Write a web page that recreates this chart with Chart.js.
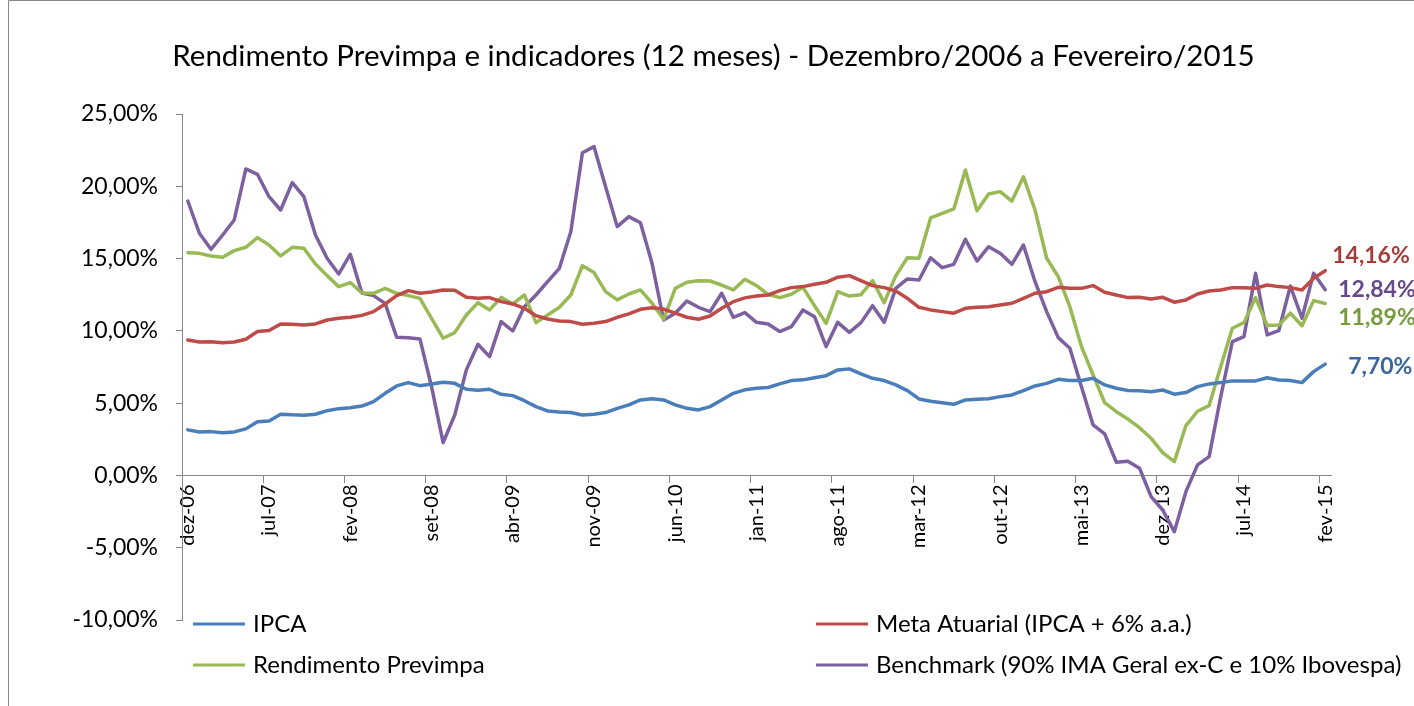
<!DOCTYPE html>
<html lang="pt-BR">
<head>
<meta charset="UTF-8">
<title>Rendimento Previmpa e indicadores</title>
<script src="https://cdn.jsdelivr.net/npm/chart.js"></script>
<style>
    body { margin: 0; background: #fff; }
    #wrap { width: 1414px; height: 706px; }
</style>
</head>
<body>
<div id="wrap"><canvas id="chart" width="1414" height="706"></canvas></div>
<script>
// categories: dez-06 .. fev-15
const months = ['jan', 'fev', 'mar', 'abr', 'mai', 'jun', 'jul', 'ago', 'set', 'out', 'nov', 'dez'];
const labels = ['dez-06'];
for (let y = 7; y <= 15; y++) {
    for (let m = 0; m < 12; m++) {
        if (y === 15 && m > 1) break;
        labels.push(months[m] + '-' + String(y).padStart(2, '0'));
    }
}

const ipca = [
    3.15, 3.01, 3.03, 2.96, 3.01, 3.22, 3.72, 3.77, 4.23, 4.19, 4.17, 4.23, 4.48, 4.62, 4.68, 4.80, 5.10, 5.68, 6.19, 6.42,
    6.21, 6.33, 6.45, 6.37, 5.96, 5.89, 5.96, 5.61, 5.52, 5.17, 4.76, 4.46, 4.38, 4.35, 4.18, 4.23, 4.35, 4.64, 4.88, 5.22,
    5.31, 5.22, 4.88, 4.64, 4.53, 4.76, 5.22, 5.68, 5.92, 6.03, 6.08, 6.33, 6.56, 6.61, 6.76, 6.90, 7.30, 7.37, 7.02, 6.72,
    6.56, 6.26, 5.87, 5.29, 5.13, 5.03, 4.92, 5.22, 5.27, 5.31, 5.45, 5.57, 5.87, 6.19, 6.37, 6.65, 6.56, 6.56, 6.72, 6.26,
    6.03, 5.87, 5.86, 5.79, 5.91, 5.62, 5.73, 6.14, 6.33, 6.42, 6.54, 6.54, 6.54, 6.76, 6.60, 6.56, 6.42, 7.18, 7.70
];
const meta = [
    9.37, 9.23, 9.25, 9.18, 9.23, 9.42, 9.95, 10.02, 10.48, 10.46, 10.41, 10.48, 10.75, 10.87, 10.94, 11.07, 11.33, 11.86, 12.44, 12.78,
    12.60, 12.69, 12.83, 12.81, 12.32, 12.25, 12.30, 12.02, 11.86, 11.56, 11.05, 10.82, 10.68, 10.64, 10.46, 10.52, 10.64, 10.94, 11.17, 11.49,
    11.60, 11.51, 11.22, 10.94, 10.80, 11.03, 11.56, 12.02, 12.28, 12.41, 12.48, 12.78, 12.99, 13.06, 13.22, 13.36, 13.71, 13.82, 13.47, 13.13,
    12.99, 12.76, 12.25, 11.63, 11.45, 11.33, 11.22, 11.56, 11.63, 11.67, 11.79, 11.91, 12.25, 12.60, 12.71, 13.01, 12.94, 12.94, 13.13, 12.67,
    12.48, 12.30, 12.32, 12.21, 12.32, 11.98, 12.14, 12.55, 12.76, 12.83, 12.99, 12.99, 12.94, 13.17, 13.06, 12.99, 12.83, 13.64, 14.16
];
const rendimento = [
    15.41, 15.36, 15.18, 15.09, 15.55, 15.78, 16.45, 15.94, 15.18, 15.78, 15.71, 14.63, 13.82, 13.06, 13.34, 12.62, 12.60, 12.94, 12.60, 12.44,
    12.25, 10.87, 9.49, 9.88, 11.10, 11.95, 11.45, 12.32, 11.86, 12.48, 10.57, 11.10, 11.62, 12.48, 14.51, 14.03, 12.71, 12.14, 12.55, 12.83,
    11.91, 10.80, 12.94, 13.36, 13.47, 13.45, 13.17, 12.83, 13.57, 13.13, 12.53, 12.30, 12.53, 13.01, 11.74, 10.52, 12.71, 12.41, 12.50, 13.47,
    11.95, 13.80, 15.06, 15.02, 17.81, 18.13, 18.43, 21.13, 18.31, 19.47, 19.63, 18.98, 20.66, 18.36, 15.02, 13.75, 11.67, 8.91, 6.95, 5.03,
    4.41, 3.90, 3.30, 2.57, 1.58, 0.95, 3.45, 4.44, 4.83, 7.53, 10.18, 10.57, 12.30, 10.37, 10.40, 11.22, 10.35, 12.09, 11.89
];
const benchmark = [
    18.98, 16.75, 15.64, 16.63, 17.67, 21.20, 20.83, 19.28, 18.36, 20.25, 19.28, 16.63, 15.02, 13.93, 15.30, 12.62, 12.44, 11.90, 9.55, 9.53,
    9.44, 6.14, 2.27, 4.18, 7.30, 9.07, 8.22, 10.64, 9.99, 11.67, 12.48, 13.40, 14.30, 16.86, 22.32, 22.74, 19.97, 17.21, 17.90, 17.48,
    14.67, 10.75, 11.22, 12.07, 11.63, 11.33, 12.60, 10.94, 11.26, 10.59, 10.48, 9.95, 10.29, 11.45, 10.98, 8.91, 10.59, 9.90, 10.57, 11.74,
    10.59, 12.94, 13.59, 13.52, 15.06, 14.37, 14.60, 16.33, 14.83, 15.82, 15.37, 14.60, 15.94, 13.40, 11.33, 9.53, 8.80, 6.14, 3.49, 2.87,
    0.91, 0.98, 0.50, -1.47, -2.39, -3.89, -1.12, 0.73, 1.30, 5.45, 9.25, 9.60, 13.98, 9.72, 10.01, 13.10, 10.87, 13.98, 12.84
];

const yTicks = { min: -10, max: 25, step: 5 };
const titleText = 'Rendimento Previmpa e indicadores (12 meses) - Dezembro/2006 a Fevereiro/2015';
const seriesNames = ['IPCA', 'Meta Atuarial (IPCA + 6% a.a.)', 'Rendimento Previmpa', 'Benchmark (90% IMA Geral ex-C e 10% Ibovespa)'];

const FONT = 'Lato, "Open Sans", sans-serif';
const AXIS = '#868686';

const fmt = v => v.toFixed(2).replace('.', ',') + '%';

// white background + chart frame
const framePlugin = {
    id: 'frame',
    beforeDraw(chart) {
        const c = chart.ctx;
        c.save();
        c.fillStyle = '#fff';
        c.fillRect(0, 0, chart.width, chart.height);
        c.strokeStyle = AXIS;
        c.lineWidth = 1;
        c.beginPath();
        c.moveTo(8.5, chart.height);
        c.lineTo(8.5, 0.5);
        c.lineTo(chart.width, 0.5);
        c.stroke();
        c.restore();
    }
};

// value labels at the end of each line
const endLabels = {
    id: 'endLabels',
    afterDatasetsDraw(chart) {
        const c = chart.ctx;
        c.save();
        c.font = 'bold 23px ' + FONT;
        c.textBaseline = 'middle';
        c.textAlign = 'left';
        chart.data.datasets.forEach((ds, i) => {
            const pts = chart.getDatasetMeta(i).data;
            const p = pts[pts.length - 1];
            const off = ds.endOffset;
            c.fillStyle = ds.labelColor;
            c.fillText(fmt(ds.data[ds.data.length - 1]), p.x + off[0], p.y + off[1]);
        });
        c.restore();
    }
};

// two-column legend under the plot, like the spreadsheet one
const legendPlugin = {
    id: 'gridLegend',
    afterDraw(chart) {
        const c = chart.ctx;
        const cols = [193, 816];
        const rows = [624, 665];
        c.save();
        c.font = '24px ' + FONT;
        c.textBaseline = 'middle';
        c.textAlign = 'left';
        chart.data.datasets.forEach((ds, k) => {
            const x = cols[k % 2];
            const y = rows[Math.floor(k / 2)];
            c.strokeStyle = ds.borderColor;
            c.lineWidth = 3;
            c.beginPath();
            c.moveTo(x, y);
            c.lineTo(x + 52, y);
            c.stroke();
            c.fillStyle = '#000';
            c.fillText(ds.label, x + 60, y);
        });
        c.restore();
    }
};

new Chart(document.getElementById('chart'), {
    type: 'line',
    data: {
        labels: labels,
        datasets: [
            { label: seriesNames[0], data: ipca, borderColor: '#4A7EBB', labelColor: '#3B679F', endOffset: [23, 2] },
            { label: seriesNames[1], data: meta, borderColor: '#BE4B48', labelColor: '#A33E3A', endOffset: [7, -15] },
            { label: seriesNames[2], data: rendimento, borderColor: '#98B954', labelColor: '#779A3A', endOffset: [13, 14] },
            { label: seriesNames[3], data: benchmark, borderColor: '#7D60A0', labelColor: '#67498A', endOffset: [13, 0] }
        ]
    },
    options: {
        responsive: false,
        animation: false,
        // left padding keeps the title centred where the original one sits
        layout: { padding: { left: 13, right: 0, top: 0, bottom: 86 } },
        elements: {
            point: { radius: 0, hoverRadius: 0 },
            line: { borderWidth: 3.5, tension: 0, borderCapStyle: 'round', borderJoinStyle: 'round' }
        },
        plugins: {
            legend: { display: false },
            tooltip: { enabled: false },
            title: {
                display: true,
                text: titleText,
                color: '#000',
                font: { family: FONT, size: 29.5, weight: 'normal', lineHeight: 1.2 },
                padding: { top: 39, bottom: 39.6 }
            }
        },
        scales: {
            x: {
                position: { y: 0 },
                offset: true,
                grid: {
                    offset: true,
                    drawOnChartArea: false,
                    drawTicks: true,
                    tickLength: 7,
                    color: ctx => (ctx.index % 7 === 0 ? AXIS : 'rgba(0,0,0,0)')
                },
                border: { color: AXIS, width: 1 },
                ticks: {
                    autoSkip: false,
                    minRotation: 90,
                    maxRotation: 90,
                    padding: 2,
                    color: '#000',
                    font: { family: FONT, size: 20 },
                    callback: (v, i) => (i % 7 === 0 ? labels[i] : '')
                },
                afterFit: s => { s.height = 0; }
            },
            y: {
                min: yTicks.min,
                max: yTicks.max,
                grid: { drawOnChartArea: false, tickLength: 6, color: AXIS },
                border: { color: AXIS, width: 1 },
                ticks: {
                    stepSize: yTicks.step,
                    padding: 18,
                    color: '#000',
                    font: { family: FONT, size: 23 },
                    callback: v => fmt(v)
                },
                afterFit: s => { s.width = 169; }
            },
            // empty strip on the right that leaves room for the end labels
            gutter: {
                type: 'linear',
                axis: 'y',
                position: 'right',
                grid: { display: false },
                border: { display: false },
                ticks: { display: false },
                afterFit: s => { s.width = 83; }
            }
        }
    },
    plugins: [framePlugin, endLabels, legendPlugin]
});
</script>
</body>
</html>
